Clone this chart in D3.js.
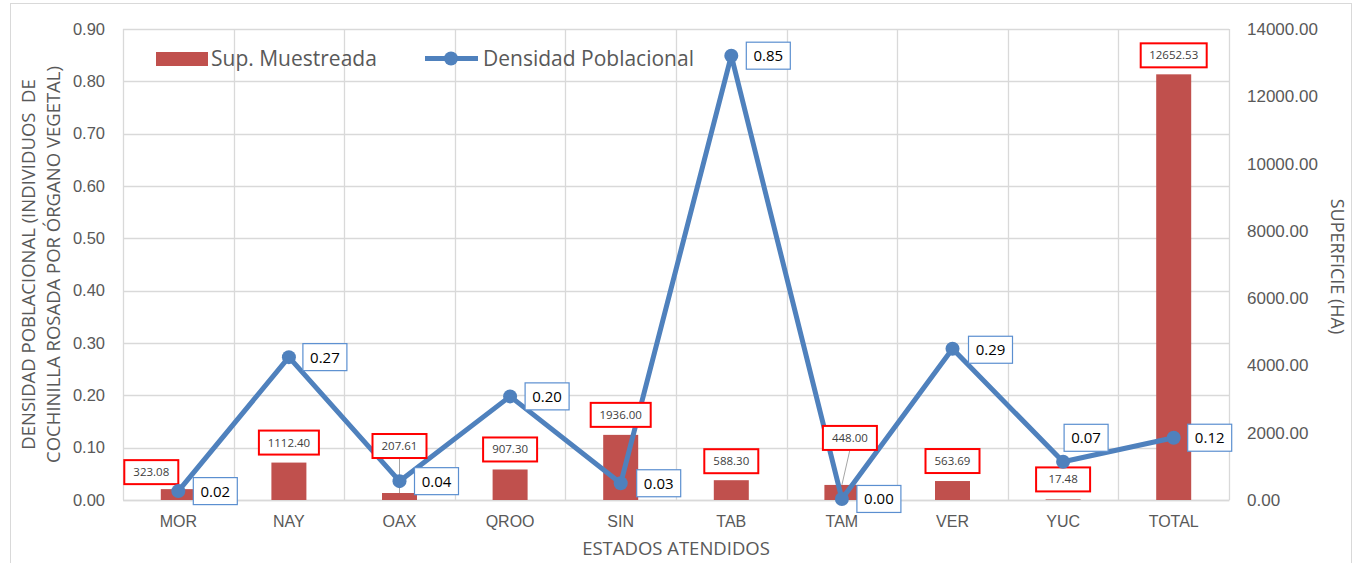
<!DOCTYPE html>
<html>
<head>
<meta charset="utf-8">
<script src="https://cdn.jsdelivr.net/npm/d3@7"></script>
<style>
  body { margin: 0; background: #fff; }
  svg { display: block; font-family: "Open Sans", "Noto Sans", sans-serif; }
</style>
</head>
<body>
<svg id="chart" width="1358" height="563"></svg>
<script>
// chart data
const estados = ['MOR', 'NAY', 'OAX', 'QROO', 'SIN', 'TAB', 'TAM', 'VER', 'YUC', 'TOTAL'];
const superficie = [323.08, 1112.40, 207.61, 907.30, 1936.00, 588.30, 448.00, 563.69, 17.48, 12652.53];
const densidad = [0.017, 0.273, 0.036, 0.198, 0.032, 0.849, 0.002, 0.289, 0.073, 0.119];
const leftTicks = [0, 0.1, 0.2, 0.3, 0.4, 0.5, 0.6, 0.7, 0.8, 0.9];
const rightTicks = [0, 2000, 4000, 6000, 8000, 10000, 12000, 14000];

// label placement tweaks (dx, dy in px, leader line or not), as moved by hand in the original
const barLabelShift = [[-27, -17], [0, -20], [0, -47, true], [0, -20], [0, -20], [0, -19], [8, -47, true], [0, -20], [0, -20], [0, -19]];
const lineLabelShift = [[37, 0], [36, 0], [37, 0], [37, 0], [38, 0], [37, 0], [37, 0], [38, 1], [23, -24], [36, 0]];

const svg = d3.select('#chart');
const margin = { left: 123, right: 129, top: 29, bottom: 63 };
const W = 1358, H = 563;
const plotW = W - margin.left - margin.right;
const plotH = H - margin.top - margin.bottom;

const x = d3.scaleBand().domain(estados).range([margin.left, margin.left + plotW]);
const yL = d3.scaleLinear().domain([0, 0.9]).range([margin.top + plotH, margin.top]);
const yR = d3.scaleLinear().domain([0, 14000]).range([margin.top + plotH, margin.top]);

const gridColor = '#d9d9d9';
const textColor = '#595959';
const barColor = '#c0504d';
const lineColor = '#4f81bd';

// outer chart border
svg.append('rect')
  .attr('x', 10.5).attr('y', 3.5)
  .attr('width', 1341).attr('height', 600)
  .attr('fill', 'none').attr('stroke', gridColor);

// horizontal grid
svg.append('g').selectAll('line').data(leftTicks).join('line')
  .attr('x1', margin.left).attr('x2', margin.left + plotW)
  .attr('y1', d => Math.round(yL(d)) + 0.5).attr('y2', d => Math.round(yL(d)) + 0.5)
  .attr('stroke', gridColor).attr('stroke-width', 1.3);

// vertical grid at category boundaries
const bounds = estados.map(e => x(e)).concat([margin.left + plotW]);
svg.append('g').selectAll('line').data(bounds).join('line')
  .attr('x1', d => Math.round(d) + 0.5).attr('x2', d => Math.round(d) + 0.5)
  .attr('y1', margin.top).attr('y2', margin.top + plotH)
  .attr('stroke', gridColor).attr('stroke-width', 1.3);

// left axis
const axL = svg.append('g')
  .attr('transform', `translate(${margin.left},0)`)
  .call(d3.axisLeft(yL).tickValues(leftTicks).tickFormat(d3.format('.2f')).tickSize(0).tickPadding(18));
axL.select('.domain').remove();
axL.selectAll('text').attr('fill', textColor).style('font-size', '16.5px').style('font-family', null);

// right axis
const axR = svg.append('g')
  .attr('transform', `translate(${margin.left + plotW},0)`)
  .call(d3.axisRight(yR).tickValues(rightTicks).tickFormat(d3.format('.2f')).tickSize(0).tickPadding(18));
axR.select('.domain').remove();
axR.selectAll('text').attr('fill', textColor).style('font-size', '17px').style('font-family', null);

// bottom axis
const axB = svg.append('g')
  .attr('transform', `translate(0,${margin.top + plotH})`)
  .call(d3.axisBottom(x).tickSize(0).tickPadding(16));
axB.select('.domain').attr('stroke', gridColor).attr('stroke-width', 1.3);
axB.selectAll('text').attr('fill', textColor).style('font-size', '16px').style('font-family', null);

// axis titles
svg.append('text')
  .attr('transform', `translate(${margin.left + plotW / 2},555)`)
  .attr('text-anchor', 'middle').attr('fill', textColor).style('font-size', '18.5px')
  .text('ESTADOS ATENDIDOS');

const leftTitle = svg.append('text')
  .attr('transform', `translate(35,${margin.top + plotH / 2}) rotate(-90)`)
  .attr('text-anchor', 'middle').attr('fill', textColor).style('font-size', '18.5px');
leftTitle.append('tspan').attr('x', 0).attr('y', 0).text('DENSIDAD POBLACIONAL (INDIVIDUOS\u00a0 DE');
leftTitle.append('tspan').attr('x', 0).attr('y', 25).text('COCHINILLA ROSADA POR ÓRGANO VEGETAL)');

svg.append('text')
  .attr('transform', `translate(1331,${margin.top + plotH / 2 + 2}) rotate(90)`)
  .attr('text-anchor', 'middle').attr('fill', textColor).style('font-size', '18px')
  .text('SUPERFICIE (HA)');

// bars
const barW = 35;
svg.append('g').selectAll('rect').data(superficie).join('rect')
  .attr('x', (d, i) => x(estados[i]) + x.bandwidth() / 2 - barW / 2)
  .attr('y', d => yR(d))
  .attr('width', barW)
  .attr('height', d => yR(0) - yR(d))
  .attr('fill', barColor);

// line + markers
const pts = densidad.map((d, i) => [x(estados[i]) + x.bandwidth() / 2, yL(d)]);
svg.append('path')
  .attr('d', d3.line()(pts))
  .attr('fill', 'none').attr('stroke', lineColor)
  .attr('stroke-width', 5).attr('stroke-linejoin', 'round').attr('stroke-linecap', 'round');

// leader lines for moved bar labels (drawn below markers)
const barLbl = svg.append('g');
superficie.forEach((v, i) => {
  const s = barLabelShift[i];
  const cx = x(estados[i]) + x.bandwidth() / 2;
  if (s[2]) {
    barLbl.append('line')
      .attr('x1', cx + s[0]).attr('y1', yR(v) + s[1] + 12)
      .attr('x2', cx).attr('y2', yR(v))
      .attr('stroke', '#a6a6a6').attr('stroke-width', 1);
  }
});

svg.append('g').selectAll('circle').data(pts).join('circle')
  .attr('cx', d => d[0]).attr('cy', d => d[1]).attr('r', 7)
  .attr('fill', lineColor);

// bar value labels (red boxes)
superficie.forEach((v, i) => {
  const s = barLabelShift[i];
  const cx = x(estados[i]) + x.bandwidth() / 2 + s[0];
  const cy = yR(v) + s[1];
  const txt = d3.format('.2f')(v);
  const w = txt.length > 7 ? 66 : (txt.length > 6 ? 60 : 54);
  barLbl.append('rect')
    .attr('x', cx - w / 2).attr('y', cy - 12).attr('width', w).attr('height', 24)
    .attr('fill', '#fff').attr('stroke', '#ff0000').attr('stroke-width', 2);
  barLbl.append('text')
    .attr('x', cx).attr('y', cy + 4)
    .attr('text-anchor', 'middle').attr('fill', '#404040').style('font-size', '11.5px')
    .text(txt);
});

// line value labels (blue boxes)
const lineLbl = svg.append('g');
densidad.forEach((v, i) => {
  const s = lineLabelShift[i];
  const cx = pts[i][0] + s[0];
  const cy = pts[i][1] + s[1];
  lineLbl.append('rect')
    .attr('x', cx - 22).attr('y', cy - 13.5).attr('width', 44).attr('height', 27)
    .attr('fill', '#fff').attr('stroke', '#5b8fd0').attr('stroke-width', 1.2);
  lineLbl.append('text')
    .attr('x', cx).attr('y', cy + 5.5)
    .attr('text-anchor', 'middle').attr('fill', '#000').style('font-size', '15px')
    .text(d3.format('.2f')(v));
});

// legend
const lg = svg.append('g');
lg.append('rect').attr('x', 156).attr('y', 52).attr('width', 52).attr('height', 14).attr('fill', barColor);
lg.append('text').attr('x', 211).attr('y', 66).attr('fill', textColor).style('font-size', '21px').text('Sup. Muestreada');
lg.append('line').attr('x1', 425).attr('x2', 478).attr('y1', 58.5).attr('y2', 58.5)
  .attr('stroke', lineColor).attr('stroke-width', 5);
lg.append('circle').attr('cx', 451).attr('cy', 58.5).attr('r', 7).attr('fill', lineColor);
lg.append('text').attr('x', 483).attr('y', 66).attr('fill', textColor).style('font-size', '21px').text('Densidad Poblacional');
</script>
</body>
</html>
